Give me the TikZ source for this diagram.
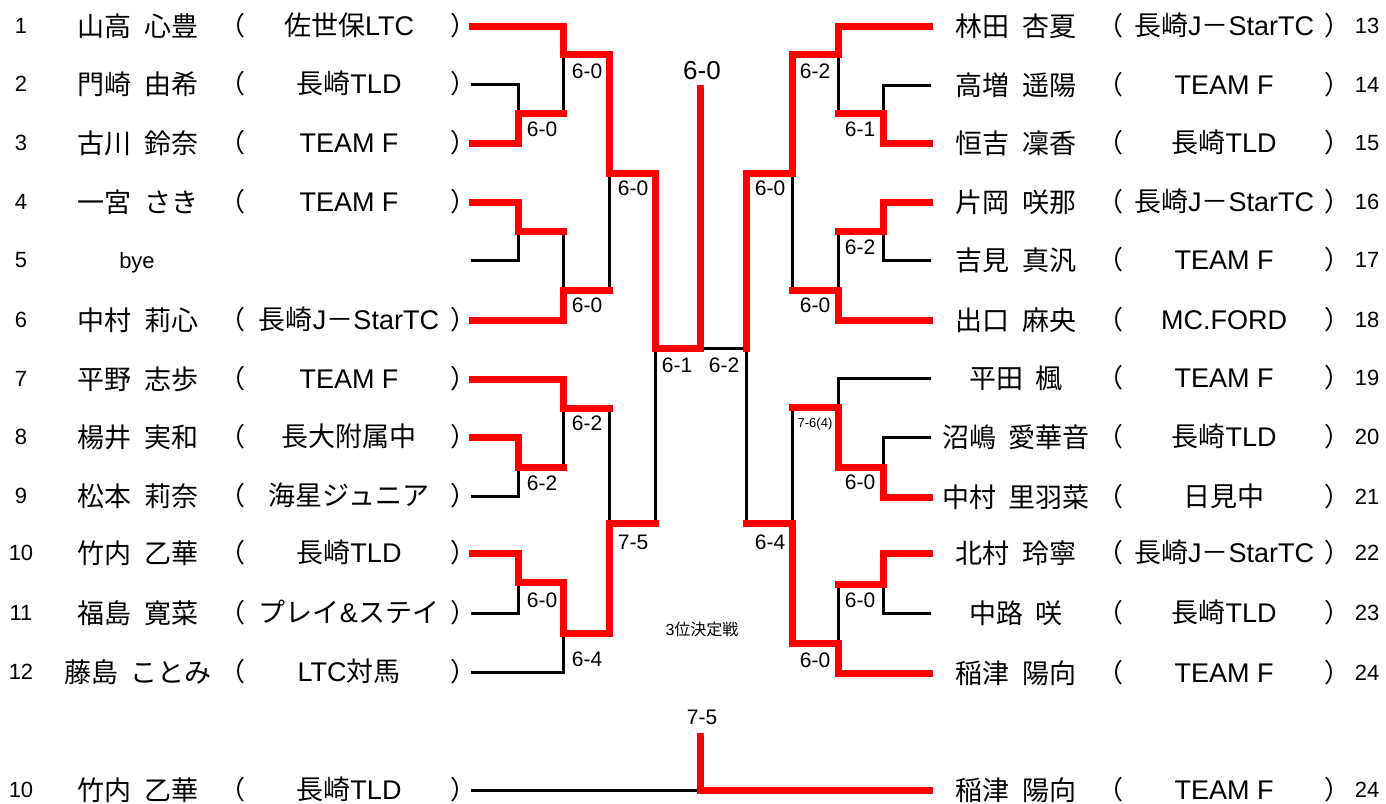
\documentclass[tikz,border=0pt]{standalone}
\usepackage{fontspec}
\setmainfont{Liberation Sans}
\newfontfamily\jp{Noto Sans CJK JP}
\newcommand\nm[2]{#1 \hspace{6pt}#2}
\newcommand\Lrow[5]{%
  \node[numtxt] (ln#5) at (21,#2) {#1};
  \node[nametxt] (lnm#5) at (138,#2) {#3};
  \node[partxt] (llp#5) at (232.5,#2) {（};
  \node[clubtxt] (lcl#5) at (349,#2) {#4};
  \node[partxt] (lrp#5) at (463.5,#2) {）};
  \coordinate (a#5) at (472,#2);
}
\newcommand\Rrow[5]{%
  \node[nametxt] (rnm#5) at (1016,#2) {#3};
  \node[partxt] (rlp#5) at (1110.5,#2) {（};
  \node[clubtxt] (rcl#5) at (1224,#2) {#4};
  \node[partxt] (rrp#5) at (1337.5,#2) {）};
  \node[numtxt] (rn#5) at (1367,#2) {#1};
  \coordinate (b#5) at (929,#2);
}
\newcommand\JS{{\jp 長崎}J{\jp －}StarTC}
\begin{document}
\begin{tikzpicture}[x=1pt,y=-1pt,
  numtxt/.style={font=\fontsize{22}{22}\selectfont, anchor=base, yshift=-7.9pt, inner sep=0pt},
  nametxt/.style={font=\jp\fontsize{27}{27}\selectfont, anchor=base, yshift=-10.1pt, inner sep=0pt},
  partxt/.style={font=\jp\fontsize{26}{26}\selectfont, anchor=base, yshift=-9.7pt, inner sep=0pt},
  clubtxt/.style={font=\fontsize{27}{27}\selectfont, anchor=base, yshift=-9.8pt, inner sep=0pt},
  byetxt/.style={font=\fontsize{22}{22}\selectfont, anchor=base, yshift=-6pt, inner sep=0pt},
  score/.style={font=\fontsize{21}{21}\selectfont, anchor=base, yshift=-7.5pt, inner sep=0pt},
  bigscore/.style={font=\fontsize{26}{26}\selectfont, anchor=base, yshift=-9.3pt, inner sep=0pt},
  tiny/.style={font=\fontsize{13}{13}\selectfont, anchor=base, yshift=-4.7pt, inner sep=0pt},
  note/.style={font=\fontsize{16}{16}\selectfont, anchor=base, yshift=-5.8pt, inner sep=0pt},
  win/.style={draw=red, line width=7pt, line cap=rect, line join=miter},
  lose/.style={draw=black, line width=3pt, line cap=rect, line join=miter}]
\useasboundingbox (0,0) rectangle (1386,803);
\fill[white] (0,0) rectangle (1386,803);

% ---------- left players ----------
\Lrow{1}{26}{\nm{山高}{心豊}}{{\jp 佐世保}LTC}{1}
\Lrow{2}{84}{\nm{門崎}{由希}}{{\jp 長崎}TLD}{2}
\Lrow{3}{143}{\nm{古川}{鈴奈}}{TEAM F}{3}
\Lrow{4}{202}{\nm{一宮}{さき}}{TEAM F}{4}
\node[numtxt] (ln5) at (21,260) {5};
\node[byetxt] (bye5) at (137,262) {bye};
\coordinate (a5) at (472,260);
\Lrow{6}{320}{\nm{中村}{莉心}}{\JS}{6}
\Lrow{7}{379}{\nm{平野}{志歩}}{TEAM F}{7}
\Lrow{8}{437}{\nm{楊井}{実和}}{{\jp 長大附属中}}{8}
\Lrow{9}{496}{\nm{松本}{莉奈}}{{\jp 海星ジュニア}}{9}
\Lrow{10}{553}{\nm{竹内}{乙華}}{{\jp 長崎}TLD}{10}
\Lrow{11}{613}{\nm{福島}{寛菜}}{{\jp プレイ}\&{\jp ステイ}}{11}
\Lrow{12}{672}{\nm{藤島}{ことみ}}{LTC{\jp 対馬}}{12}

% ---------- right players ----------
\Rrow{13}{26}{\nm{林田}{杏夏}}{\JS}{13}
\Rrow{14}{85}{\nm{高増}{遥陽}}{TEAM F}{14}
\Rrow{15}{143}{\nm{恒吉}{凜香}}{{\jp 長崎}TLD}{15}
\Rrow{16}{202}{\nm{片岡}{咲那}}{\JS}{16}
\Rrow{17}{260}{\nm{吉見}{真汎}}{TEAM F}{17}
\Rrow{18}{320}{\nm{出口}{麻央}}{MC.FORD}{18}
\Rrow{19}{378}{\nm{平田}{楓}}{TEAM F}{19}
\Rrow{20}{437}{\nm{沼嶋}{愛華音}}{{\jp 長崎}TLD}{20}
\Rrow{21}{497}{\nm{中村}{里羽菜}}{{\jp 日見中}}{21}
\Rrow{22}{553}{\nm{北村}{玲寧}}{\JS}{22}
\Rrow{23}{613}{\nm{中路}{咲}}{{\jp 長崎}TLD}{23}
\Rrow{24}{673}{\nm{稲津}{陽向}}{TEAM F}{24}

% ---------- third place row ----------
\Lrow{10}{790}{\nm{竹内}{乙華}}{{\jp 長崎}TLD}{t10}
\Rrow{24}{790}{\nm{稲津}{陽向}}{TEAM F}{t24}

% ---------- joints ----------
\coordinate (J1) at (518,113);
\coordinate (J2) at (563,54);
\coordinate (J3) at (518,231);
\coordinate (J4) at (563,290);
\coordinate (J5) at (609,173);
\coordinate (J6) at (563,408);
\coordinate (J7) at (518,467);
\coordinate (J8) at (518,582);
\coordinate (J9) at (563,633);
\coordinate (J10) at (609,523);
\coordinate (J11) at (655,348);
\coordinate (F) at (700,348);
\coordinate (Ftop) at (700,88);
\coordinate (K1) at (883,113);
\coordinate (K2) at (838,54);
\coordinate (K3) at (883,231);
\coordinate (K4) at (838,290);
\coordinate (K5) at (792,173);
\coordinate (K6) at (838,407);
\coordinate (K7) at (883,467);
\coordinate (K8) at (883,584);
\coordinate (K9) at (838,643);
\coordinate (K10) at (792,523);
\coordinate (K11) at (746,348);
\coordinate (T) at (700,790);
\coordinate (Ttop) at (700,736);

% ---------- losing segments ----------
\draw[lose] (a2) -| (J1);
\draw[lose] (J1 -| J2) -- (J2);
\draw[lose] (a5) -| (J3);
\draw[lose] (J3 -| J4) -- (J4);
\draw[lose] (J4 -| J5) -- (J5);
\draw[lose] (a9) -| (J7);
\draw[lose] (J7 -| J6) -- (J6);
\draw[lose] (J6 -| J10) -- (J10);
\draw[lose] (a11) -| (J8);
\draw[lose] (a12) -| (J9);
\draw[lose] (J10 -| J11) -- (J11);
\draw[lose] (b14) -| (K1);
\draw[lose] (K1 -| K2) -- (K2);
\draw[lose] (b17) -| (K3);
\draw[lose] (K3 -| K4) -- (K4);
\draw[lose] (K4 -| K5) -- (K5);
\draw[lose] (b19) -| (K6);
\draw[lose] (b20) -| (K7);
\draw[lose] (K6 -| K10) -- (K10);
\draw[lose] (b23) -| (K8);
\draw[lose] (K8 -| K9) -- (K9);
\draw[lose] (K10 -| K11) -- (K11) -- (F);
\draw[lose] (at10) -- (T);

% ---------- winning paths ----------
\draw[win] (a1) -| (J2) -| (J5) -| (J11) -- (F) -- (Ftop);
\draw[win] (a3) -| (J1) -- (J1 -| J2);
\draw[win] (a4) -| (J3) -- (J3 -| J4);
\draw[win] (a6) -| (J4) -- (J4 -| J5);
\draw[win] (a7) -| (J6) -- (J6 -| J10);
\draw[win] (a8) -| (J7) -- (J7 -| J6);
\draw[win] (a10) -| (J8) -| (J9) -| (J10) -- (J10 -| J11);
\draw[win] (b13) -| (K2) -| (K5) -| (K11);
\draw[win] (b15) -| (K1) -- (K1 -| K2);
\draw[win] (b16) -| (K3) -- (K3 -| K4);
\draw[win] (b18) -| (K4) -- (K4 -| K5);
\draw[win] (b21) -| (K7) -| (K6) -- (K6 -| K10);
\draw[win] (b22) -| (K8) -- (K8 -| K9);
\draw[win] (b24) -| (K9) -| (K10) -- (K10 -| K11);
\draw[win] (Ttop) -- (T) -- (bt24);

% ---------- scores ----------
\node[score] (s1) at (542,129) {6-0};
\node[score] (s2) at (587,71) {6-0};
\node[score] (s3) at (587,305) {6-0};
\node[score] (s4) at (633,188) {6-0};
\node[score] (s5) at (677,365) {6-1};
\node[score] (s6) at (587,423) {6-2};
\node[score] (s7) at (542,483) {6-2};
\node[score] (s8) at (633,542) {7-5};
\node[score] (s9) at (542,600) {6-0};
\node[score] (s10) at (587,659) {6-4};
\node[bigscore] (sf) at (702,70) {6-0};
\node[score] (r1) at (815,71) {6-2};
\node[score] (r2) at (860,129) {6-1};
\node[score] (r3) at (770,188) {6-0};
\node[score] (r4) at (860,247) {6-2};
\node[score] (r5) at (815,305) {6-0};
\node[score] (r6) at (724,365) {6-2};
\node[tiny] (r7) at (815,423) {7-6(4)};
\node[score] (r8) at (860,482) {6-0};
\node[score] (r9) at (770,542) {6-4};
\node[score] (r10) at (860,600) {6-0};
\node[score] (r11) at (815,660) {6-0};
\node[note] (third) at (702,630) {3{\jp 位決定戦}};
\node[score] (st) at (702,717) {7-5};
\end{tikzpicture}
\end{document}
